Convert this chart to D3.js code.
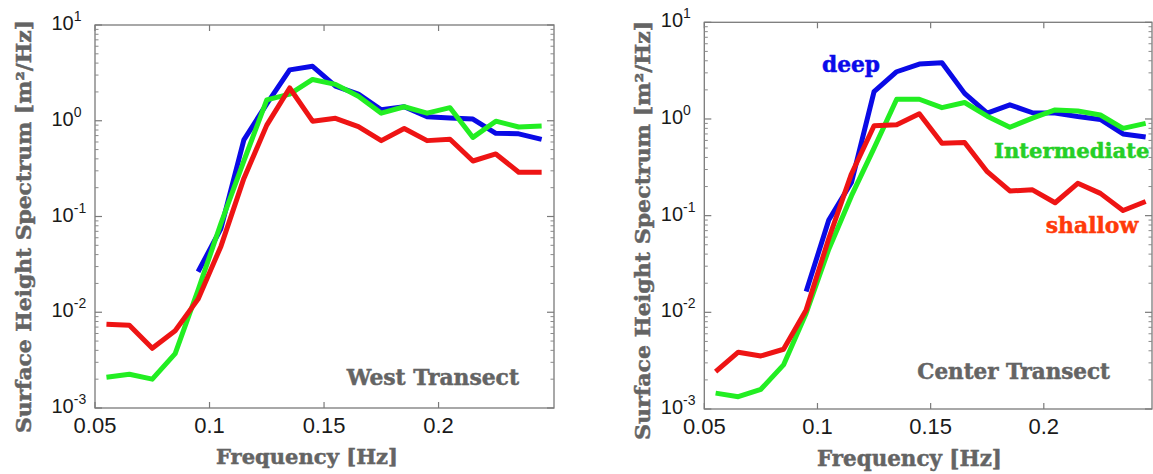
<!DOCTYPE html>
<html>
<head>
<meta charset="utf-8">
<script src="https://cdn.jsdelivr.net/npm/d3@7"></script>
<style>
  html, body { margin: 0; padding: 0; background: #fff; }
  svg { display: block; }
</style>
</head>
<body>
<div id="chart"></div>
<script>
// ── DATA ──────────────────────────────────────────────────────────
const freq = [0.055, 0.065, 0.075, 0.085, 0.095, 0.105, 0.115, 0.125, 0.135, 0.145,
              0.155, 0.165, 0.175, 0.185, 0.195, 0.205, 0.215, 0.225, 0.235, 0.245];

const westDeep    = [null, null, null, null, 0.0265, 0.075, 0.63, 1.5, 3.4, 3.7,
                     2.3, 1.9, 1.3, 1.4, 1.1, 1.07, 1.04, 0.74, 0.73, 0.64];
const westInter   = [0.0021, 0.00225, 0.0020, 0.0037, 0.017, 0.085, 0.38, 1.65, 1.9, 2.7,
                     2.4, 1.8, 1.2, 1.4, 1.2, 1.37, 0.67, 0.99, 0.86, 0.88];
const westShallow = [0.0075, 0.0073, 0.0042, 0.0064, 0.0137, 0.049, 0.25, 0.9, 2.2, 0.99,
                     1.06, 0.87, 0.62, 0.83, 0.62, 0.64, 0.38, 0.45, 0.29, 0.29];

const centerDeep    = [null, null, null, null, 0.0164, 0.09, 0.22, 1.92, 3.08, 3.7,
                       3.82, 1.84, 1.15, 1.4, 1.16, 1.15, 1.06, 0.99, 0.70, 0.65];
const centerInter   = [0.00146, 0.00134, 0.0016, 0.00286, 0.0098, 0.045, 0.16, 0.5, 1.6, 1.6,
                       1.31, 1.48, 1.07, 0.82, 1.02, 1.24, 1.21, 1.1, 0.80, 0.90];
const centerShallow = [0.00244, 0.00387, 0.00354, 0.00415, 0.0106, 0.058, 0.27, 0.85, 0.87, 1.13,
                       0.56, 0.57, 0.285, 0.18, 0.185, 0.136, 0.216, 0.17, 0.113, 0.14];

const xTicks = [0.05, 0.1, 0.15, 0.2];
const xTickLabels = ['0.05', '0.1', '0.15', '0.2'];
const yExponents = [1, 0, -1, -2, -3];

const COLORS = { deep: '#0a0ae6', inter: '#22ee22', shallow: '#ee1414' };
const GREY = '#646464';
const SERIF = "'DejaVu Serif', serif";
const SANS = "'Liberation Sans', Arial, sans-serif";

const W = 1153, H = 474;
const svg = d3.select('#chart').append('svg')
  .attr('width', W).attr('height', H)
  .attr('viewBox', `0 0 ${W} ${H}`);
svg.append('rect').attr('width', W).attr('height', H).attr('fill', '#fff');

// serif label spanning x0..x1; shrinks the font if the natural width would overrun
function serifText(g, str, x0, x1, y, size, color, rotate) {
  const target = Math.abs(x1 - x0);
  const t = g.append('text')
    .attr('font-family', SERIF).attr('font-weight', 'bold')
    .attr('font-size', size).attr('fill', color)
    .text(str);
  const natural = t.node().getComputedTextLength();
  if (natural > target) t.attr('font-size', size * target / natural);
  t.attr('stroke', color).attr('stroke-width', 0.5)
    .attr('textLength', target).attr('lengthAdjust', 'spacingAndGlyphs');
  if (rotate) {
    // x0..x1 are bottom..top (screen y), y is the baseline x
    t.attr('transform', `translate(${y},${x0}) rotate(-90)`);
  } else {
    t.attr('x', x0).attr('y', y);
  }
  return t;
}

function drawPanel(p) {
  const g = svg.append('g');
  const x = d3.scaleLinear().domain([0.05, p.xMax]).range([p.left, p.right]);
  const y = d3.scaleLog().domain([1e-3, 1e1]).range([p.bottom, p.top]);

  // box
  g.append('rect')
    .attr('x', p.left).attr('y', p.top)
    .attr('width', p.right - p.left).attr('height', p.bottom - p.top)
    .attr('fill', 'none').attr('stroke', '#7a7a7a').attr('stroke-width', 1.3);

  // x ticks (inward, top & bottom)
  xTicks.forEach(v => {
    const px = x(v);
    g.append('line').attr('x1', px).attr('x2', px).attr('y1', p.bottom).attr('y2', p.bottom - 6)
      .attr('stroke', '#7a7a7a').attr('stroke-width', 1.2);
    g.append('line').attr('x1', px).attr('x2', px).attr('y1', p.top).attr('y2', p.top + 6)
      .attr('stroke', '#7a7a7a').attr('stroke-width', 1.2);
  });
  g.selectAll('.xl').data(xTicks).enter().append('text')
    .attr('x', d => x(d)).attr('y', p.bottom + 24.5)
    .attr('text-anchor', 'middle')
    .attr('font-family', SANS).attr('font-size', 22).attr('fill', '#1a1a1a')
    .text((d, i) => xTickLabels[i]);

  // y ticks: major decades and log minors, both sides, inward
  yExponents.forEach(e => {
    const py = y(Math.pow(10, e));
    [[p.left, 1], [p.right, -1]].forEach(([ax, dir]) => {
      g.append('line').attr('x1', ax).attr('x2', ax + dir * 7).attr('y1', py).attr('y2', py)
        .attr('stroke', '#7a7a7a').attr('stroke-width', 1.2);
    });
    if (e > -3) {
      for (let k = 2; k <= 9; k++) {
        const pm = y(k * Math.pow(10, e - 1));
        [[p.left, 1], [p.right, -1]].forEach(([ax, dir]) => {
          g.append('line').attr('x1', ax).attr('x2', ax + dir * 3.5).attr('y1', pm).attr('y2', pm)
            .attr('stroke', '#8a8a8a').attr('stroke-width', 1);
        });
      }
    }
    const lab = g.append('text')
      .attr('x', p.left - 43.5).attr('y', py + 5)
      .attr('font-family', SANS).attr('font-size', 20).attr('fill', '#1a1a1a');
    lab.append('tspan').text('10');
    lab.append('tspan').attr('dy', -9).attr('font-size', 14).text(String(e));
  });

  // curves
  const line = d3.line()
    .defined(d => d.v != null)
    .x(d => x(d.f)).y(d => y(d.v));
  p.series.forEach(s => {
    g.append('path')
      .datum(freq.map((f, i) => ({ f, v: s.values[i] })))
      .attr('d', line)
      .attr('fill', 'none')
      .attr('stroke', s.color)
      .attr('stroke-width', 5)
      .attr('stroke-linejoin', 'round');
  });

  // titles
  serifText(g, 'Frequency [Hz]', p.xt[0], p.xt[1], p.xt[2], 22, GREY);
  serifText(g, 'Surface Height  Spectrum  [m\u00b2/Hz]', p.yt[0], p.yt[1], p.yt[2], 21, GREY, true);
  serifText(g, p.name, p.nt[0], p.nt[1], p.nt[2], 23, GREY);
  (p.labels || []).forEach(l => serifText(g, l.text, l.x0, l.x1, l.y, 22, l.color));
}

drawPanel({
  left: 95, right: 554, top: 25, bottom: 408, xMax: 0.2504,
  series: [
    { values: westDeep, color: COLORS.deep },
    { values: westInter, color: COLORS.inter },
    { values: westShallow, color: COLORS.shallow }
  ],
  xt: [216, 398, 463.5],
  yt: [433, 20, 31],
  nt: [346.7, 519, 384.5],
  name: 'West Transect'
});

drawPanel({
  left: 704.3, right: 1152, top: 22.3, bottom: 409, xMax: 0.2478,
  series: [
    { values: centerDeep, color: COLORS.deep },
    { values: centerInter, color: COLORS.inter },
    { values: centerShallow, color: COLORS.shallow }
  ],
  xt: [817, 1002, 466],
  yt: [440, 20.7, 650],
  nt: [917.3, 1110, 378.5],
  name: 'Center Transect',
  labels: [
    { text: 'deep', x0: 822, x1: 880, y: 71.5, color: '#0b0bea' },
    { text: 'Intermediate', x0: 994, x1: 1149.5, y: 158, color: '#26cf26' },
    { text: 'shallow', x0: 1045.7, x1: 1138.3, y: 232.5, color: '#ff3a0a' }
  ]
});
</script>
</body>
</html>
